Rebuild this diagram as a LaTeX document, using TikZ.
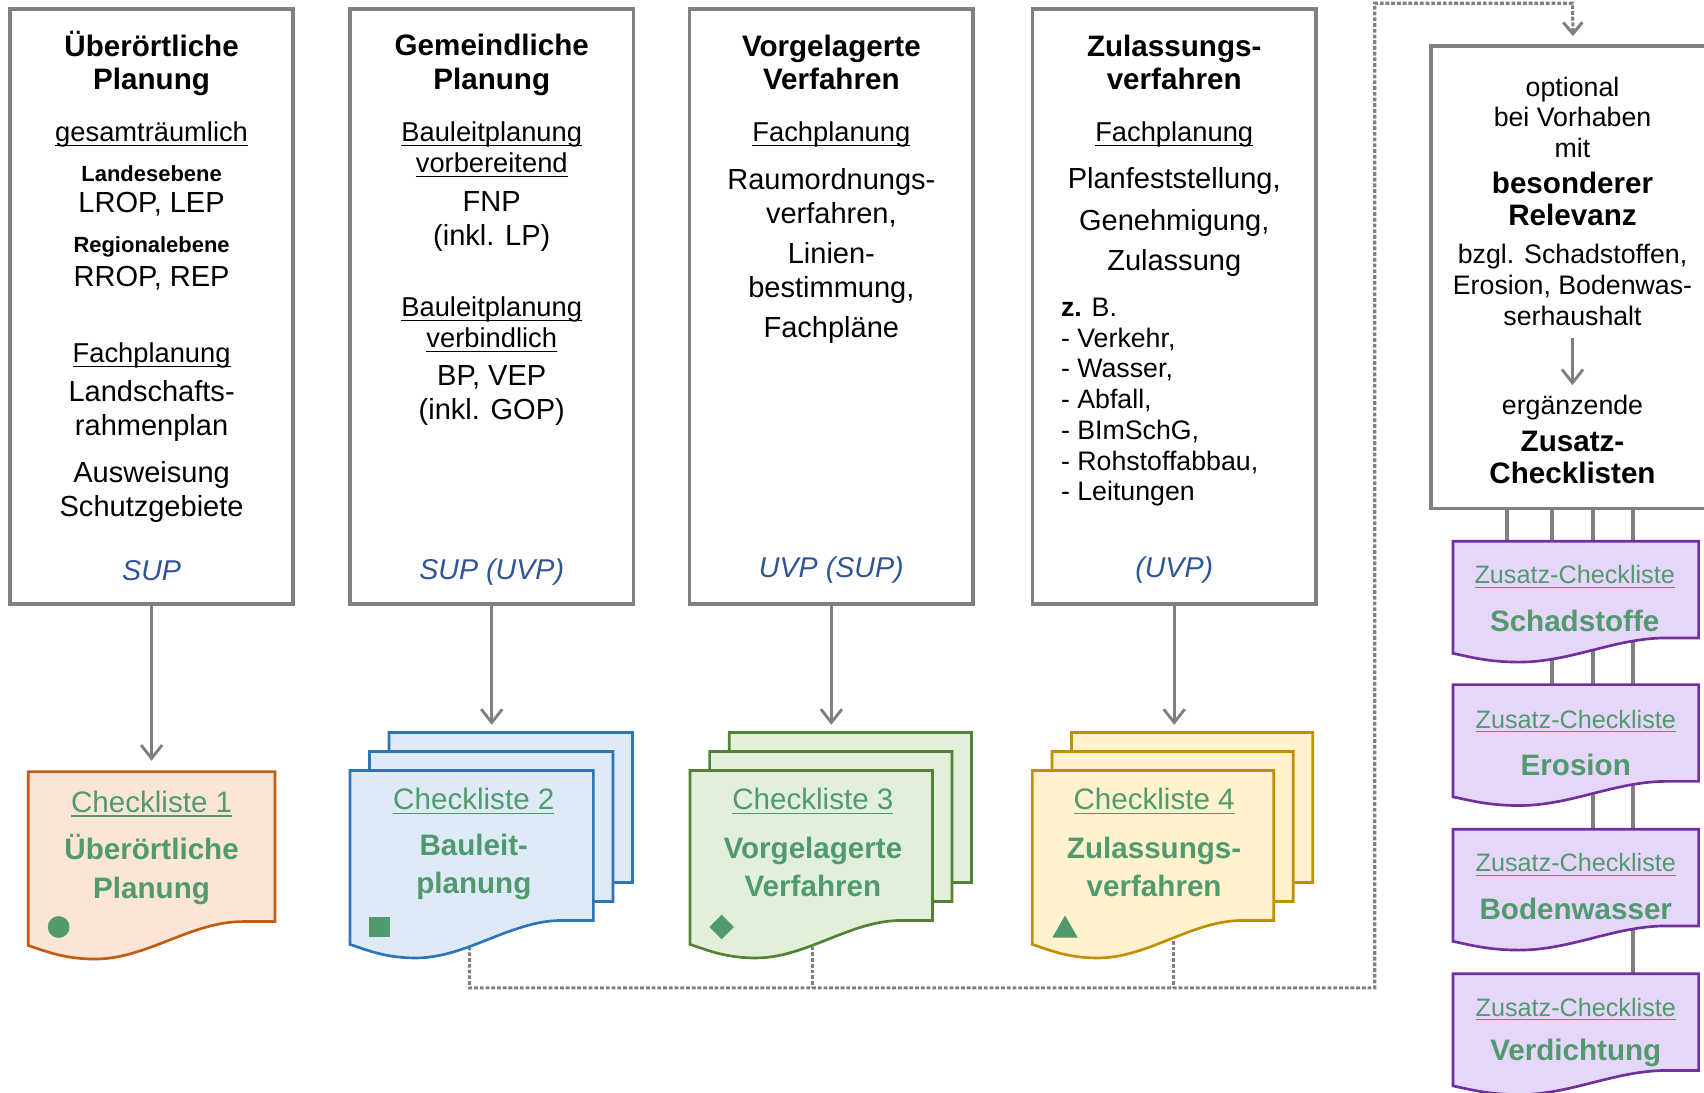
\documentclass[tikz,border=0pt]{standalone}
\usepackage{amsmath}
\usepackage{fontspec}
\setmainfont{Liberation Sans}
\usetikzlibrary{arrows.meta,shapes.geometric}

\definecolor{boxgrey}{HTML}{7F7F7F}
\definecolor{dotgrey}{HTML}{808080}
\definecolor{ckgreen}{HTML}{509A6E}
\definecolor{supblue}{HTML}{2F5597}
\definecolor{orgfill}{HTML}{FBE5D6}
\definecolor{orgline}{HTML}{C55A11}
\definecolor{blufill}{HTML}{DEEBF7}
\definecolor{bluline}{HTML}{2E75B6}
\definecolor{grnfill}{HTML}{E2F0D9}
\definecolor{grnline}{HTML}{538135}
\definecolor{yelfill}{HTML}{FFF2CC}
\definecolor{yelline}{HTML}{BF9000}
\definecolor{purfill}{HTML}{E6D6FA}
\definecolor{purline}{HTML}{7030A0}

\newcommand\ul[1]{\underline{\smash[b]{#1}}}

% fill, line, x0, y0, width, height at right edge
\newcommand\docsheet[6]{%
  \filldraw[sheet,fill=#1,draw=#2] ({#3},{#4}) -- ({#3+#5},{#4}) -- ({#3+#5},{#4+#6})
    -- ({#3+0.87*#5},{#4+#6})
    .. controls ({#3+0.66*#5},{#4+#6}) and ({#3+0.48*#5},{#4+1.25*#6}) .. ({#3+0.27*#5},{#4+1.25*#6})
    .. controls ({#3+0.14*#5},{#4+1.25*#6}) and ({#3+0.06*#5},{#4+1.19*#6}) .. ({#3},{#4+1.16*#6}) -- cycle;}

\begin{document}
\begin{tikzpicture}
  [x=0.02cm,y=-0.02cm,
   every node/.style={inner sep=0pt,align=center},
   panel/.style={draw=boxgrey,line width=2pt,fill=white,minimum width=5.22cm,minimum height=10.96cm},
   sheet/.style={line width=1.4pt},
   ttl/.style={font=\fontsize{15.5}{17.6}\selectfont\bfseries},
   bdy/.style={font=\fontsize{15.2}{17.6}\selectfont},
   und/.style={font=\fontsize{14.3}{16}\selectfont},
   sml/.style={font=\fontsize{11.5}{13}\selectfont\bfseries},
   sup/.style={font=\fontsize{15}{17}\selectfont\itshape,text=supblue},
   side/.style={font=\fontsize{14}{16.2}\selectfont},
   sidebf/.style={font=\fontsize{15.5}{17}\selectfont\bfseries},
   lst/.style={font=\fontsize{14}{16.1}\selectfont,align=left,anchor=west},
   clhead/.style={font=\fontsize{15.5}{17}\selectfont,text=ckgreen},
   clname/.style={font=\fontsize{15.5}{20}\selectfont\bfseries,text=ckgreen},
   zhead/.style={font=\fontsize{13.2}{15}\selectfont,text=ckgreen},
   sym/.style={fill=ckgreen,draw=none,inner sep=0pt},
   arr/.style={draw=boxgrey,line width=1.5pt,-{Straight Barb[length=7pt,width=11pt]}},
   dots/.style={draw=dotgrey,line width=1.6pt,dash pattern=on 2pt off 1pt},
   link/.style={draw=boxgrey,line width=2pt}]
  \useasboundingbox (0,0) rectangle (1568,1005);

  \node[panel] (b1) at (139.5,282) {};
  \node[panel] (b2) at (452.5,282) {};
  \node[panel] (b3) at (765,282) {};
  \node[panel] (b4) at (1080.5,282) {};
  \node[panel,minimum height=8.52cm] (b5) at (1447.5,255) {};

  \node[ttl] (t1a) at (139.5,58.5) {Überörtliche\\Planung};
  \node[und] (t1b) at (139.5,124) {\ul{gesamträumlich}};
  \node[sml] (t1c) at (139.5,160) {Landesebene};
  \node[bdy] (t1d) at (139.5,188) {LROP, LEP};
  \node[sml] (t1e) at (139.5,227) {Regionalebene};
  \node[bdy] (t1f) at (139.5,256) {RROP, REP};
  \node[und] (t1g) at (139.5,327) {\ul{Fachplanung}};
  \node[bdy] (t1h) at (139.5,378) {Landschafts-\\rahmenplan};
  \node[bdy] (t1i) at (139.5,452.5) {Ausweisung\\Schutzgebiete};
  \node[sup] (s1) at (139.5,525) {SUP};

  \node[ttl] (t2a) at (452.5,59.5) {Gemeindliche\\Planung};
  \node[und] (t2b) at (452.5,138) {\ul{Bauleitplanung}\\\ul{vorbereitend}};
  \node[bdy] (t2c) at (452.5,204) {FNP\\(inkl. LP)};
  \node[und] (t2d) at (452.5,299) {\ul{Bauleitplanung}\\\ul{verbindlich}};
  \node[bdy] (t2e) at (452.5,364) {BP, VEP\\(inkl. GOP)};
  \node[sup] (s2) at (452.5,526) {SUP (UVP)};

  \node[ttl] (t3a) at (765,57.5) {Vorgelagerte\\Verfahren};
  \node[und] (t3b) at (765,124) {\ul{Fachplanung}};
  \node[bdy] (t3c) at (765,182) {Raumordnungs-\\verfahren,};
  \node[bdy] (t3d) at (765,251) {Linien-\\bestimmung,};
  \node[bdy] (t3e) at (765,303.5) {Fachpläne};
  \node[sup] (s3) at (765,525) {UVP (SUP)};

  \node[ttl] (t4a) at (1080.5,57.5) {Zulassungs-\\verfahren};
  \node[und] (t4b) at (1080.5,124) {\ul{Fachplanung}};
  \node[bdy] (t4c) at (1080.5,167) {Planfeststellung,};
  \node[bdy] (t4d) at (1080.5,205) {Genehmigung,};
  \node[bdy] (t4e) at (1080.5,242) {Zulassung};
  \node[lst] (t4f) at (976,370) {\textbf{z.} B.\\- Verkehr,\\- Wasser,\\- Abfall,\\- BImSchG,\\- Rohstoffabbau,\\- Leitungen};
  \node[sup] (s4) at (1080.5,525) {(UVP)};

  \node[side] (t5a) at (1447,108) {optional\\bei Vorhaben\\mit};
  \node[sidebf] (t5b) at (1447,183) {besonderer\\Relevanz};
  \node[side] (t5c) at (1447,262.5) {bzgl. Schadstoffen,\\Erosion, Bodenwas-\\serhaushalt};
  \node[side] (t5d) at (1447,375) {ergänzende};
  \node[sidebf] (t5e) at (1447,421) {Zusatz-\\Checklisten};
  \draw[arr,shorten <=6pt,shorten >=5pt] (t5c.south) -- (t5d.north);

  \coordinate (z1) at (1449,498);
  \coordinate (z2) at (1449,630);
  \coordinate (z3) at (1449,763);
  \coordinate (z4) at (1449,896);
  \foreach \x/\z in {1387/z1,1428/z2,1466/z3,1503/z4}
    \draw[link] (\x,0 |- b5.south) -- (\x,0 |- \z);

  \coordinate (d2) at (432,850);
  \coordinate (d3) at (748,850);
  \coordinate (d4) at (1080,850);
  \coordinate (jn) at (1265,909);
  \coordinate (tp) at (1265,3);
  \coordinate (tq) at (1447,3);
  \draw[dots,-{Straight Barb[length=6pt,width=10pt]},shorten >=4pt] (d2) |- (jn) -- (tp) -- (tq) -- (b5.north);
  \foreach \d in {d3,d4}
    \draw[dots] (\d) -- (\d |- jn);

  \docsheet{orgfill}{orgline}{26}{710}{227}{138}
  \foreach \k in {2,1,0}
    {\docsheet{blufill}{bluline}{322+18*\k}{709-17.5*\k}{224}{138}}
  \foreach \k in {2,1,0}
    {\docsheet{grnfill}{grnline}{635+18*\k}{709-17.5*\k}{223}{138}}
  \foreach \k in {2,1,0}
    {\docsheet{yelfill}{yelline}{950+18*\k}{709-17.5*\k}{222}{138}}
  \foreach \y in {498,630,763,896}
    {\docsheet{purfill}{purline}{1337}{\y}{226}{89}}

  \node[clhead] (c1h) at (139.5,740) {\ul{Checkliste 1}};
  \node[clname] (c1) at (139.5,800) {Überörtliche\\Planung};
  \node[clhead] (c2h) at (436,738) {\ul{Checkliste 2}};
  \node[clname] (c2) at (436,797.5) {Bauleit-\\planung};
  \node[clhead] (c3h) at (748,738) {\ul{Checkliste 3}};
  \node[clname] (c3) at (748,797.5) {Vorgelagerte\\Verfahren};
  \node[clhead] (c4h) at (1062,738) {\ul{Checkliste 4}};
  \node[clname] (c4) at (1062,797.5) {Zulassungs-\\verfahren};

  \node[sym,circle,minimum size=0.4cm] (m1) at (54,853) {};
  \node[sym,rectangle,minimum size=0.38cm] (m2) at (349,853) {};
  \node[sym,diamond,minimum size=0.46cm] (m3) at (664,853) {};
  \node[sym,regular polygon,regular polygon sides=3,minimum size=0.54cm] (m4) at (980,856) {};

  \node[zhead] (z1h) at (1449,531) {\ul{Zusatz-Checkliste}};
  \node[clname] (z1n) at (1449,571) {Schadstoffe};
  \node[zhead] (z2h) at (1450,664) {\ul{Zusatz-Checkliste}};
  \node[clname] (z2n) at (1450,704) {Erosion};
  \node[zhead] (z3h) at (1450,796) {\ul{Zusatz-Checkliste}};
  \node[clname] (z3n) at (1450,836) {Bodenwasser};
  \node[zhead] (z4h) at (1450,929) {\ul{Zusatz-Checkliste}};
  \node[clname] (z4n) at (1450,969) {Verdichtung};

  \coordinate (a1) at (139.5,700);
  \coordinate (a2) at (452.5,667);
  \coordinate (a3) at (765,667);
  \coordinate (a4) at (1080.5,667);
  \foreach \from/\to in {b1/a1, b2/a2, b3/a3, b4/a4}
    \draw[arr] (\from.south) -- (\to);

\end{tikzpicture}
\end{document}
